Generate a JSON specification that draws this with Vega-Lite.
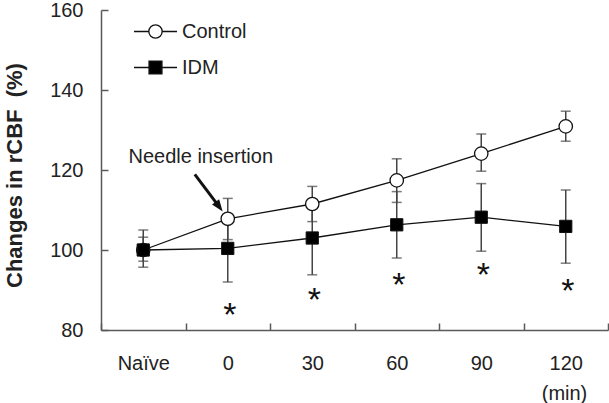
{
  "$schema": "https://vega.github.io/schema/vega-lite/v6.json",
  "width": 507,
  "height": 320,
  "autosize": {"type": "none"},
  "padding": {"left": 101, "top": 10, "right": 1, "bottom": 73},
  "background": "white",
  "config": {
    "font": "Liberation Sans",
    "view": {"stroke": null},
    "axis": {
      "domainColor": "#5a5a5a",
      "domainWidth": 1.5,
      "tickColor": "#5a5a5a",
      "tickWidth": 1.5,
      "tickSize": -7,
      "grid": false,
      "labelFont": "Liberation Sans",
      "labelFontSize": 20,
      "labelColor": "#222",
      "titleFont": "Liberation Sans",
      "titleColor": "#222"
    },
    "legend": {
      "orient": "none",
      "padding": 0,
      "symbolSize": 1849,
      "symbolStrokeWidth": 1.3,
      "symbolStrokeColor": "#111",
      "labelFont": "Liberation Sans",
      "labelFontSize": 20,
      "labelColor": "#222",
      "labelOffset": 4
    }
  },
  "datasets": {
    "rcbf": [
      {"t": "Naïve", "group": "Control", "mean": 100.0, "lo": 95.7, "hi": 105.0},
      {"t": "0", "group": "Control", "mean": 107.8, "lo": 102.6, "hi": 112.9},
      {"t": "30", "group": "Control", "mean": 111.5, "lo": 107.1, "hi": 115.9},
      {"t": "60", "group": "Control", "mean": 117.4, "lo": 111.9, "hi": 122.8},
      {"t": "90", "group": "Control", "mean": 124.1, "lo": 119.7, "hi": 129.0},
      {"t": "120", "group": "Control", "mean": 130.9, "lo": 127.2, "hi": 134.7},
      {"t": "Naïve", "group": "IDM", "mean": 100.0, "lo": 97.2, "hi": 103.2},
      {"t": "0", "group": "IDM", "mean": 100.4, "lo": 92.0, "hi": 108.8},
      {"t": "30", "group": "IDM", "mean": 103.0, "lo": 93.8, "hi": 112.2},
      {"t": "60", "group": "IDM", "mean": 106.3, "lo": 98.0, "hi": 114.6},
      {"t": "90", "group": "IDM", "mean": 108.2, "lo": 99.7, "hi": 116.6},
      {"t": "120", "group": "IDM", "mean": 105.9, "lo": 96.7, "hi": 115.0}
    ],
    "stars": [
      {"t": "0", "y": 81.1, "mark": "*"},
      {"t": "30", "y": 84.8, "mark": "*"},
      {"t": "60", "y": 88.5, "mark": "*"},
      {"t": "90", "y": 90.9, "mark": "*"},
      {"t": "120", "y": 86.9, "mark": "*"}
    ],
    "note": [
      {"t": "0", "y": 121.8, "label": "Needle insertion"}
    ],
    "arrow": [
      {"t": "0", "y0": 118.9, "y1": 110.8, "tip": 109.6}
    ]
  },
  "encoding": {
    "x": {
      "field": "t",
      "type": "nominal",
      "scale": {"domain": ["Naïve", "0", "30", "60", "90", "120"], "paddingInner": 0, "paddingOuter": 0},
      "axis": {
        "tickBand": "extent",
        "labelAngle": 0,
        "labelPadding": 30,
        "title": "(min)",
        "titleFontSize": 20,
        "titleFontWeight": "normal",
        "titleX": 463,
        "titleY": 63,
        "titleAlign": "center",
        "titleBaseline": "middle"
      }
    }
  },
  "resolve": {"scale": {"fill": "independent"}, "legend": {"fill": "independent"}},
  "layer": [
    {
      "data": {"name": "rcbf"},
      "mark": {"type": "rule", "color": "#444", "strokeWidth": 1.5},
      "encoding": {
        "y": {
          "field": "lo",
          "type": "quantitative",
          "scale": {"domain": [80, 160], "nice": false, "zero": false},
          "axis": {
            "values": [80, 100, 120, 140, 160],
            "labelPadding": 25,
            "title": "Changes in rCBF\u00a0 (%)",
            "titleFontSize": 22,
            "titleFontWeight": "bold",
            "titleAngle": -90,
            "titleX": -80,
            "titleY": 165,
            "titleAlign": "center",
            "titleBaseline": "alphabetic"
          }
        },
        "y2": {"field": "hi"}
      }
    },
    {
      "data": {"name": "rcbf"},
      "mark": {"type": "tick", "color": "#444", "size": 10, "thickness": 1.5},
      "encoding": {"y": {"field": "lo", "type": "quantitative"}}
    },
    {
      "data": {"name": "rcbf"},
      "mark": {"type": "tick", "color": "#444", "size": 10, "thickness": 1.5},
      "encoding": {"y": {"field": "hi", "type": "quantitative"}}
    },
    {
      "data": {"name": "rcbf"},
      "mark": {"type": "line", "color": "#111", "strokeWidth": 1.3},
      "encoding": {
        "y": {"field": "mean", "type": "quantitative"},
        "detail": {"field": "group"}
      }
    },
    {
      "data": {"name": "rcbf"},
      "transform": [{"filter": "datum.group === 'Control'"}],
      "mark": {"type": "point", "shape": "circle", "filled": true, "stroke": "#111", "strokeWidth": 1.3, "opacity": 1, "size": 180},
      "encoding": {
        "y": {"field": "mean", "type": "quantitative"},
        "fill": {
          "field": "group",
          "type": "nominal",
          "scale": {"domain": ["Control"], "range": ["white"]},
          "legend": {
            "title": null,
            "legendX": 32,
            "legendY": -1,
            "symbolType": "M-1,0H-0.31M0.31,0H1M-0.31,0A0.31,0.31,0,1,0,0.31,0A0.31,0.31,0,1,0,-0.31,0Z"
          }
        }
      }
    },
    {
      "data": {"name": "rcbf"},
      "transform": [{"filter": "datum.group === 'IDM'"}],
      "mark": {"type": "point", "shape": "square", "filled": true, "stroke": "#111", "strokeWidth": 1, "opacity": 1, "size": 150},
      "encoding": {
        "y": {"field": "mean", "type": "quantitative"},
        "fill": {
          "field": "group",
          "type": "nominal",
          "scale": {"domain": ["IDM"], "range": ["black"]},
          "legend": {
            "title": null,
            "legendX": 32,
            "legendY": 35,
            "symbolType": "M-1,0H-0.3M0.3,0H1M-0.3,-0.3H0.3V0.3H-0.3Z"
          }
        }
      }
    },
    {
      "data": {"name": "stars"},
      "mark": {"type": "text", "fontSize": 34, "color": "#111", "dx": 2, "baseline": "alphabetic"},
      "encoding": {
        "y": {"field": "y", "type": "quantitative"},
        "text": {"field": "mark"}
      }
    },
    {
      "data": {"name": "note"},
      "mark": {"type": "text", "fontSize": 20, "color": "#222", "dx": -27, "baseline": "alphabetic", "align": "center"},
      "encoding": {
        "y": {"field": "y", "type": "quantitative"},
        "text": {"field": "label"}
      }
    },
    {
      "data": {"name": "arrow"},
      "mark": {"type": "rule", "color": "#111", "strokeWidth": 3},
      "encoding": {
        "x": {"field": "t", "type": "nominal", "bandPosition": 0.11},
        "x2": {"field": "t", "bandPosition": 0.4},
        "y": {"field": "y0", "type": "quantitative"},
        "y2": {"field": "y1"}
      }
    },
    {
      "data": {"name": "arrow"},
      "mark": {"type": "point", "shape": "M0,0L-1.1,3L1.1,3Z", "size": 64, "filled": true, "color": "#111", "opacity": 1, "angle": 143.7},
      "encoding": {
        "x": {"field": "t", "type": "nominal", "bandPosition": 0.44},
        "y": {"field": "tip", "type": "quantitative"}
      }
    }
  ]
}
